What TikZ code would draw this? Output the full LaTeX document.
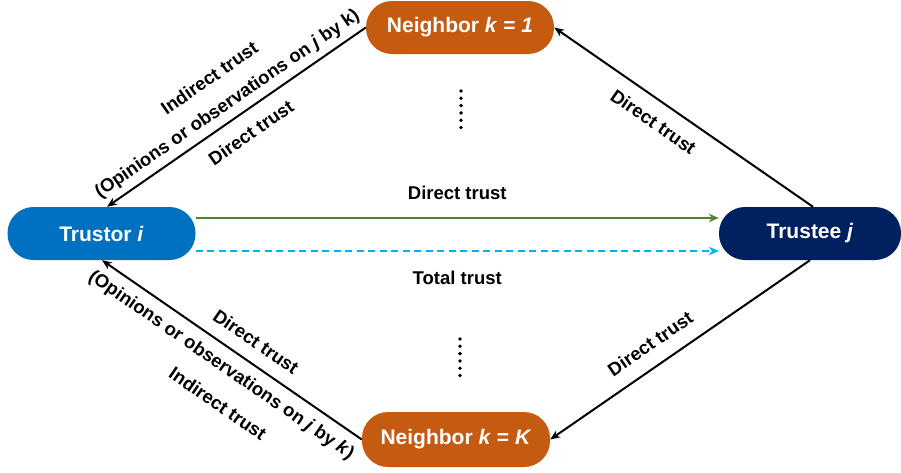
\documentclass[tikz,border=0pt]{standalone}
\usepackage{fontspec}
\setmainfont{Liberation Sans}
\usetikzlibrary{arrows.meta}
\definecolor{nbrorange}{HTML}{C55A11}
\definecolor{trustorblue}{HTML}{0070C0}
\definecolor{trusteenavy}{HTML}{002060}
\definecolor{directgreen}{HTML}{548235}
\definecolor{totalcyan}{HTML}{00B0F0}
\tikzset{
  agent/.style={rectangle, rounded corners=26pt, minimum width=188pt, minimum height=53pt,
    inner sep=0pt, text=white, font=\fontsize{21}{25}\selectfont\bfseries},
  lbl/.style={font=\fontsize{18.5}{22}\selectfont\bfseries, inner sep=0pt},
  link/.style={line width=2pt, -{Stealth[length=10pt,width=8pt]}},
  flow/.style={line width=2.7pt, -{Stealth[length=10pt,width=8.5pt]}},
  dotmark/.style={circle, fill=black, inner sep=0pt, minimum size=3.8pt}
}
\begin{document}
\begin{tikzpicture}[x=1pt,y=-1pt]
\useasboundingbox (0,0) rectangle (901,472);

% agents
\node[agent, fill=nbrorange] (n1) at (460,27.5) {Neighbor \textit{k} = \textit{1}};
\node[agent, fill=trustorblue] (trustor) at (101.5,233.5) {Trustor \textit{i}};
\node[agent, fill=trusteenavy, minimum width=182pt] (trustee) at (810,233.5) {Trustee \textit{j}};
\node[agent, fill=nbrorange, minimum height=55pt] (nK) at (456,439.5) {Neighbor \textit{k} = \textit{K}};

% trustor -> trustee
\draw[flow, directgreen] ([yshift=15.5pt]trustor.east) -- ([yshift=15.5pt]trustee.west)
  node[lbl, text=black, midway, yshift=25pt] (dlbl) {Direct trust};
\draw[flow, totalcyan, dash pattern=on 7pt off 4.5pt] ([yshift=-17.5pt]trustor.east) -- ([yshift=-17.5pt]trustee.west)
  node[lbl, text=black, midway, yshift=-27pt] (tlbl) {Total trust};

% neighbor 1 -> trustor
\draw[link] (n1.west) -- ([xshift=5.5pt]trustor.north)
  node[lbl, sloped, pos=0.5, yshift=47.7pt] (ul1) {Indirect trust}
  node[lbl, sloped, pos=0.5, yshift=15.6pt] (ul2) {(Opinions or observations on \textit{j} by k)}
  node[lbl, sloped, pos=0.49, yshift=-21pt] (ul3) {Direct trust};

% trustee -> neighbor 1
\draw[link] ([xshift=3pt]trustee.north) -- (n1.east)
  node[lbl, sloped, pos=0.57, yshift=-21pt] (ur) {Direct trust};

% trustee -> neighbor K
\draw[link] (trustee.south) -- (nK.east)
  node[lbl, sloped, pos=0.567, yshift=22pt] (lr) {Direct trust};

% neighbor K -> trustor
\draw[link] (nK.west) -- ([xshift=0.5pt]trustor.south)
  node[lbl, sloped, pos=0.452, yshift=20.5pt] (ll1) {Direct trust}
  node[lbl, sloped, pos=0.5, yshift=-19pt] (ll2) {(Opinions or observations on \textit{j} by \textit{k})}
  node[lbl, sloped, pos=0.44, yshift=-52pt] (ll3) {Indirect trust};

% vertical ellipses between the neighbors
\foreach \i in {0,...,5} {
  \node[dotmark] (du\i) at (461,91+7.3*\i) {};
  \node[dotmark] (dl\i) at (460,339+7.3*\i) {};
}
\end{tikzpicture}
\end{document}
